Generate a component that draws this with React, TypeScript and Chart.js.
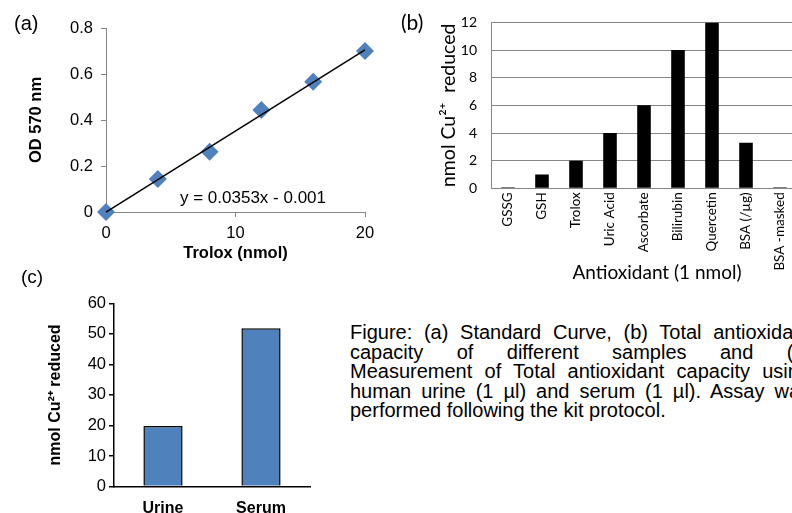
import React, { useEffect, useRef } from 'react';
import { Chart, registerables } from 'chart.js';

Chart.register(...registerables);

// ---- Panel (a): standard curve ----
const trolox = [0, 4, 8, 12, 16, 20];
const od570 = [0, 0.143, 0.262, 0.444, 0.566, 0.7];
const trendX = [0, 20];
const trendY = [-0.001, 0.705];
const equationText = 'y = 0.0353x - 0.001';

// ---- Panel (b): antioxidant capacity ----
const antioxidants = ['GSSG', 'GSH', 'Trolox', 'Uric Acid', 'Ascorbate', 'Bilirubin', 'Quercetin', 'BSA (/µg)', 'BSA -masked'];
const cuReduced = [0.08, 1, 2, 4, 6, 10, 12, 3.3, 0.08];

// ---- Panel (c): samples ----
const samples = ['Urine', 'Serum'];
const sampleCu = [19.8, 51.8];

const captionLines = [
  'Figure: (a) Standard Curve, (b) Total antioxidant',
  'capacity of different samples and (c)',
  'Measurement of Total antioxidant capacity using',
  'human urine (1 µl) and serum (1 µl). Assay was',
  'performed following the kit protocol.',
];

const ARIAL = '"Liberation Sans", Arial, sans-serif';
const LATO = 'Lato, "Open Sans", sans-serif';
const BLUE = '#4F81BD';
const GRAY = '#868686';

function useChart(ref: React.RefObject<HTMLCanvasElement | null>, makeConfig: () => any) {
  useEffect(() => {
    if (!ref.current) return;
    const chart = new Chart(ref.current, makeConfig());
    return () => chart.destroy();
  }, []);
}

export default function App() {
  const aRef = useRef<HTMLCanvasElement>(null);
  const bRef = useRef<HTMLCanvasElement>(null);
  const cRef = useRef<HTMLCanvasElement>(null);

  useChart(aRef, () => ({
    type: 'scatter',
    data: {
      datasets: [
        {
          data: trendX.map((x, i) => ({ x, y: trendY[i] })),
          showLine: true,
          borderColor: '#000',
          borderWidth: 1.5,
          pointRadius: 0,
          clip: false,
        },
        {
          data: trolox.map((x, i) => ({ x, y: od570[i] })),
          pointStyle: 'rectRot',
          pointRadius: 9,
          backgroundColor: BLUE,
          borderColor: BLUE,
          borderWidth: 0,
          clip: false,
        },
      ],
    },
    options: {
      animation: false,
      responsive: false,
      events: [],
      plugins: { legend: { display: false }, tooltip: { enabled: false } },
      layout: { padding: { top: 28, right: 35, left: 0, bottom: 0 } },
      scales: {
        x: {
          type: 'linear',
          min: 0,
          max: 20,
          ticks: { stepSize: 10, font: { family: ARIAL, size: 16.5 }, color: '#000', padding: 7 },
          grid: { display: true, drawOnChartArea: false, drawTicks: true, tickLength: 5, color: GRAY },
          border: { display: true, color: GRAY, width: 1 },
          title: {
            display: true,
            text: 'Trolox (nmol)',
            font: { family: ARIAL, size: 16.5, weight: 'bold' },
            color: '#000',
            padding: { top: 0, bottom: 7 },
          },
          afterFit: (s: any) => { s.height = 58; },
        },
        y: {
          type: 'linear',
          min: 0,
          max: 0.8,
          ticks: { stepSize: 0.2, font: { family: ARIAL, size: 16.5 }, color: '#000', padding: 8 },
          grid: { display: true, drawOnChartArea: false, drawTicks: true, tickLength: 5, color: GRAY },
          border: { display: true, color: GRAY, width: 1 },
          title: {
            display: true,
            text: 'OD 570 nm',
            font: { family: ARIAL, size: 16.5, weight: 'bold' },
            color: '#000',
            padding: { top: 27, bottom: 0 },
          },
          afterFit: (s: any) => { s.width = 106; },
        },
      },
    },
  }));

  useChart(bRef, () => ({
    type: 'bar',
    data: {
      labels: antioxidants,
      datasets: [
        {
          data: cuReduced,
          backgroundColor: '#000',
          borderWidth: 0,
          barPercentage: 0.4,
          categoryPercentage: 1,
        },
      ],
    },
    options: {
      animation: false,
      responsive: false,
      events: [],
      plugins: { legend: { display: false }, tooltip: { enabled: false } },
      layout: { padding: { top: 18.3, right: 13, left: 0, bottom: 0 } },
      scales: {
        x: {
          grid: { display: false, drawTicks: false },
          border: { display: true, color: GRAY, width: 1 },
          ticks: {
            autoSkip: false,
            minRotation: 90,
            maxRotation: 90,
            font: { family: LATO, size: 13.5 },
            color: '#000',
            padding: 4,
          },
          afterFit: (s: any) => { s.height = 101.7; },
        },
        y: {
          min: 0,
          max: 12,
          ticks: { stepSize: 2, font: { family: LATO, size: 14 }, color: '#000', padding: 14 },
          grid: { color: GRAY, drawTicks: false, lineWidth: 1 },
          border: { display: true, color: GRAY, width: 1 },
          title: {
            display: true,
            text: 'nmol Cu²⁺  reduced',
            font: { family: LATO, size: 19.5 },
            color: '#000',
            padding: { top: 37, bottom: 0 },
          },
          afterFit: (s: any) => { s.width = 91; },
        },
      },
    },
  }));

  useChart(cRef, () => ({
    type: 'bar',
    data: {
      labels: samples,
      datasets: [
        {
          data: sampleCu,
          backgroundColor: BLUE,
          borderColor: '#000',
          borderWidth: 1.5,
          barPercentage: 0.4,
          categoryPercentage: 1,
        },
      ],
    },
    options: {
      animation: false,
      responsive: false,
      events: [],
      plugins: { legend: { display: false }, tooltip: { enabled: false } },
      layout: { padding: { top: 43.3, right: 20, left: 0, bottom: 0 } },
      scales: {
        x: {
          grid: { display: false, drawTicks: false },
          border: { display: true, color: '#000', width: 1.5 },
          ticks: { font: { family: ARIAL, size: 16, weight: 'bold' }, color: '#000', padding: 12 },
          afterFit: (s: any) => { s.height = 26.5; },
        },
        y: {
          min: 0,
          max: 60,
          ticks: { stepSize: 10, font: { family: ARIAL, size: 16.5 }, color: '#000', padding: 3 },
          grid: { display: true, drawOnChartArea: false, drawTicks: true, tickLength: 5, color: '#000', lineWidth: 1.5 },
          border: { display: true, color: '#000', width: 1.5 },
          title: {
            display: true,
            text: 'nmol Cu²⁺ reduced',
            font: { family: ARIAL, size: 16, weight: 'bold' },
            color: '#000',
            padding: { top: 46, bottom: 0 },
          },
          afterFit: (s: any) => { s.width = 114; },
        },
      },
    },
  }));

  const abs = (extra: React.CSSProperties): React.CSSProperties => ({ position: 'absolute', whiteSpace: 'nowrap', ...extra });

  return (
    <div
      style={{
        position: 'absolute',
        left: 0,
        top: 0,
        width: 792,
        height: 513,
        overflow: 'hidden',
        background: '#fff',
        fontFamily: ARIAL,
        color: '#000',
      }}
    >
      <canvas ref={aRef} width={400} height={270} style={abs({ left: 0, top: 0, width: 400, height: 270 })} />
      <canvas ref={bRef} width={410} height={290} style={abs({ left: 400, top: 0, width: 410, height: 290 })} />
      <canvas ref={cRef} width={330} height={253} style={abs({ left: 0, top: 260, width: 330, height: 253 })} />

      <div style={abs({ left: 14, top: 12, fontSize: 20, lineHeight: '22px' })}>(a)</div>
      <div style={abs({ left: 401, top: 11, fontSize: 21, lineHeight: '22px', fontFamily: LATO })}>(b)</div>
      <div style={abs({ left: 21, top: 266, fontSize: 19, lineHeight: '22px' })}>(c)</div>

      <div style={abs({ left: 180, top: 188, fontSize: 17, lineHeight: '20px' })}>{equationText}</div>

      <div style={abs({ left: 547, top: 261, width: 220, textAlign: 'center', fontSize: 19, lineHeight: '22px', fontFamily: LATO })}>
        Antioxidant (1 nmol)
      </div>

      <div style={abs({ left: 350, top: 323, width: 460, whiteSpace: 'normal', fontSize: 20, lineHeight: '19.6px' })}>
        {captionLines.map((line, i) => (
          <div
            key={i}
            style={{
              whiteSpace: 'nowrap',
              textAlign: i < captionLines.length - 1 ? 'justify' : 'left',
              textAlignLast: i < captionLines.length - 1 ? 'justify' : 'left',
            }}
          >
            {line}
          </div>
        ))}
      </div>
    </div>
  );
}
